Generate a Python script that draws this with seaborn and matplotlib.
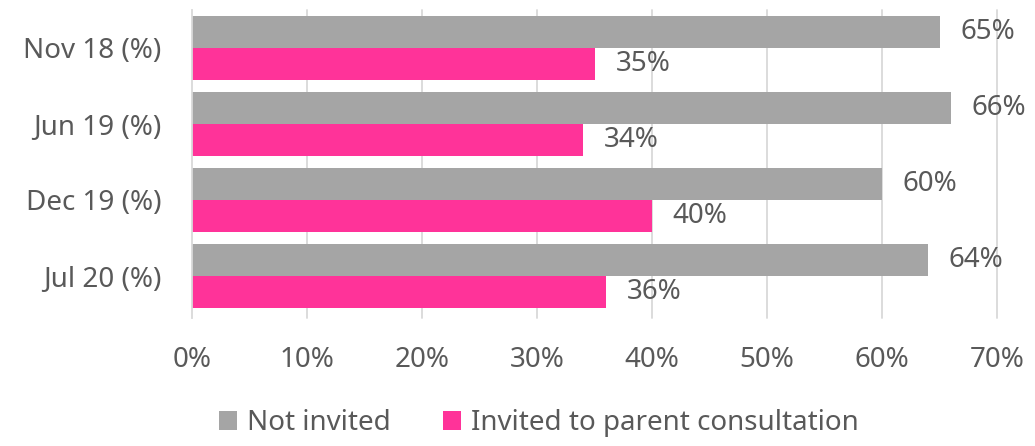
import matplotlib
matplotlib.use("Agg")
import matplotlib.pyplot as plt
import seaborn as sns
import pandas as pd

# Survey waves and the share of respondents in each group (%)
waves = ["Nov 18 (%)", "Jun 19 (%)", "Dec 19 (%)", "Jul 20 (%)"]
not_invited = [65, 66, 60, 64]
invited = [35, 34, 40, 36]
series_names = ["Not invited", "Invited to parent consultation"]
x_ticks = [0, 10, 20, 30, 40, 50, 60, 70]

colors = ["#A5A5A5", "#FF3399"]
text_color = "#595959"
grid_color = "#D9D9D9"
fs = 20

sns.set_theme(style="white")
plt.rcParams["font.family"] = ["Noto Sans", "DejaVu Sans"]

df = pd.DataFrame({
    "wave": waves * 2,
    "value": not_invited + invited,
    "series": [series_names[0]] * len(waves) + [series_names[1]] * len(waves),
})

fig = plt.figure(figsize=(10.35, 4.46), dpi=100)
ax = fig.add_axes([192 / 1035, 1 - 314 / 446, 805 / 1035, 304 / 446])

sns.barplot(
    data=df, y="wave", x="value", hue="series", orient="h",
    palette=colors, saturation=1, width=0.842, gap=0, linewidth=0,
    order=waves, hue_order=series_names, ax=ax, legend=True,
)

ax.set_xlim(0, 70)
ax.set_ylim(3.5, -0.5)
ax.set_xticks(x_ticks)
ax.set_xticklabels([f"{t}%" for t in x_ticks])
ax.set_xlabel("")
ax.set_ylabel("")

for t in x_ticks[1:]:
    ax.axvline(t, ymin=-4 / 304, ymax=1, color=grid_color, lw=1.3,
               zorder=0, clip_on=False)

for side in ["top", "right", "bottom"]:
    ax.spines[side].set_visible(False)
ax.spines["left"].set_color(grid_color)
ax.spines["left"].set_linewidth(1.3)
ax.spines["left"].set_bounds(3.5 + 4 / 76, -0.5)

ax.tick_params(axis="x", length=0, pad=23, labelsize=fs, labelcolor=text_color)
ax.tick_params(axis="y", length=0, pad=22, labelsize=fs, labelcolor=text_color)

for container in ax.containers:
    ax.bar_label(container, labels=[f"{v:.0f}%" for v in container.datavalues],
                 padding=15, fontsize=fs, color=text_color)

handles, labels = ax.get_legend_handles_labels()
ax.legend_.remove()
fig.legend(
    handles, labels, loc="center", bbox_to_anchor=(539 / 1035, 1 - 423 / 446),
    ncol=2, frameon=False, fontsize=fs, labelcolor=text_color,
    handlelength=0.65, handleheight=0.65, handletextpad=0.36, columnspacing=1.87,
)

fig.savefig("out.png", dpi=100)
